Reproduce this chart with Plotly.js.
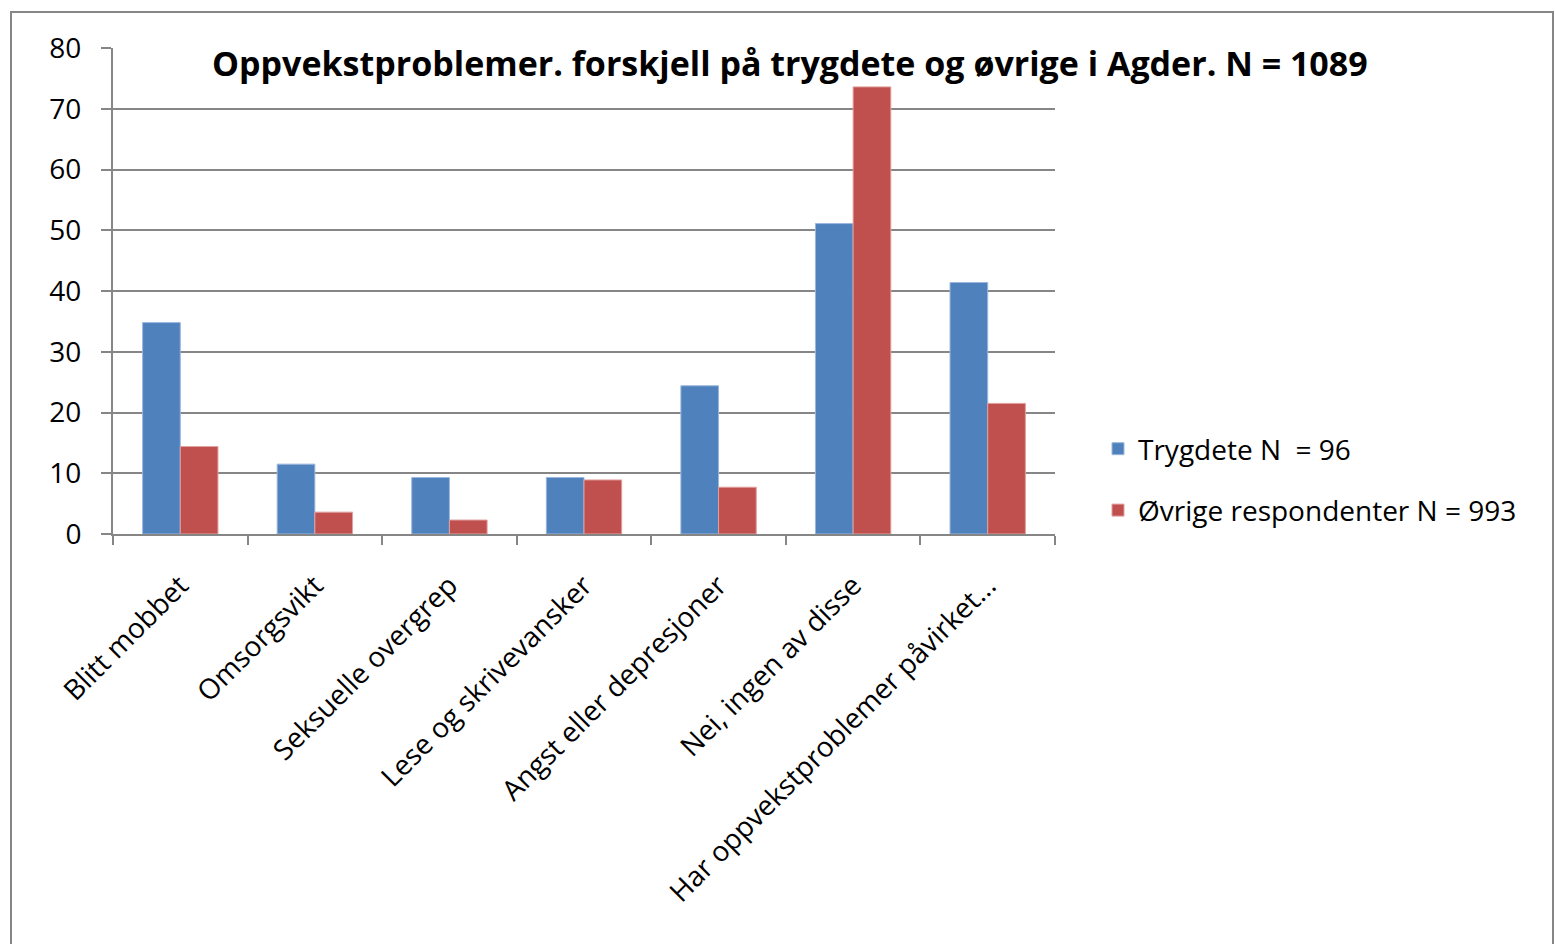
<!DOCTYPE html>
<html>
<head>
<meta charset="utf-8">
<script src="https://cdn.plot.ly/plotly-3.0.1.min.js"></script>
<style>
html,body{margin:0;padding:0;background:#fff;}
#chart{width:1555px;height:944px;}
</style>
</head>
<body>
<div id="chart"></div>
<script>
const categories = ["Blitt mobbet", "Omsorgsvikt", "Seksuelle overgrep", "Lese og skrivevansker", "Angst eller depresjoner", "Nei, ingen av disse", "Har oppvekstproblemer påvirket..."];
const trygdete = [34.8, 11.5, 9.3, 9.3, 24.4, 51.1, 41.4];
const ovrige = [14.4, 3.6, 2.3, 8.9, 7.7, 73.6, 21.5];
const seriesNames = ["Trygdete N  = 96", "Øvrige respondenter N = 993"];
const yTicks = [0, 10, 20, 30, 40, 50, 60, 70, 80];
const titleText = "Oppvekstproblemer. forskjell på trygdete og øvrige i Agder. N = 1089";

const FONT = "'Open Sans', Lato, sans-serif";
const L = 113, R = 500, T = 48, B = 410, W = 1555, H = 944;
const pw = W - L - R, ph = H - T - B;
const px = x => (x - L) / pw;
const py = y => (H - B - y) / ph;

const traces = [
  {type: "bar", x: categories, y: trygdete, name: seriesNames[0], legendgroup: "a",
   marker: {color: "#4F81BD", line: {color: "#9bb7dd", width: 1}}},
  {type: "bar", x: categories, y: ovrige, name: seriesNames[1], legendgroup: "b",
   marker: {color: "#C0504D", line: {color: "#e0a09e", width: 1}}}
];

const layout = {
  width: W, height: H,
  margin: {l: L, r: R, t: T, b: B, pad: 0},
  paper_bgcolor: "#fff", plot_bgcolor: "#fff",
  font: {family: FONT, size: 28, color: "#000"},
  barmode: "group", bargap: 0.44, bargroupgap: 0,
  showlegend: true,
  legend: {x: px(1098), y: py(424), xanchor: "left", yanchor: "top",
           font: {family: FONT, size: 28, color: "#000"}, tracegroupgap: 22,
           itemwidth: 30, bgcolor: "rgba(0,0,0,0)"},
  xaxis: {type: "category", showgrid: false, showline: true, linecolor: "#868686", linewidth: 2,
          ticks: "outside", tickson: "boundaries", ticklen: 9, tickcolor: "#868686", tickwidth: 2,
          tickangle: -45, ticklabelstandoff: 22,
          tickfont: {family: FONT, size: 28, color: "#000"}, automargin: false},
  yaxis: {range: [0, 80], tickvals: yTicks, ticktext: yTicks.map(String),
          showgrid: true, gridcolor: "#868686", gridwidth: 2,
          showline: true, linecolor: "#868686", linewidth: 2,
          ticks: "outside", ticklen: 10, tickcolor: "#868686", tickwidth: 2, ticklabelstandoff: 14,
          zeroline: false, tickfont: {family: FONT, size: 28, color: "#000"}, automargin: false},
  annotations: [
    {text: "<b>" + titleText + "</b>", xref: "paper", yref: "paper",
     x: px(790), y: py(63), xanchor: "center", yanchor: "middle", showarrow: false,
     font: {family: FONT, size: 34, color: "#000"}}
  ],
  shapes: [
    {type: "path", xref: "paper", yref: "paper",
     path: `M ${px(11)} ${py(960)} L ${px(11)} ${py(12)} L ${px(1553)} ${py(12)} L ${px(1553)} ${py(960)}`,
     line: {color: "#868686", width: 2}}
  ]
};

Plotly.newPlot("chart", traces, layout, {displayModeBar: false, staticPlot: true});
</script>
</body>
</html>
